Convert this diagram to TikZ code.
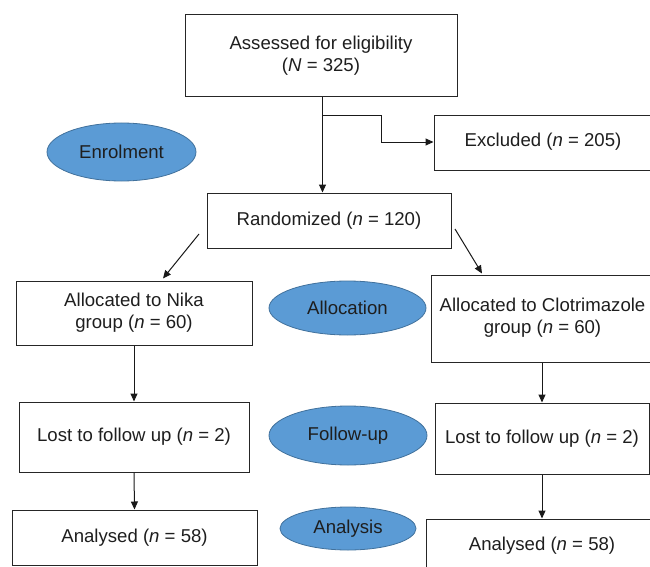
\documentclass[tikz,border=0pt]{standalone}
\usepackage{fontspec}
\setmainfont{Liberation Sans}
\usetikzlibrary{shapes.geometric,arrows.meta}
\definecolor{ellfill}{HTML}{5B9BD5}
\definecolor{elldraw}{HTML}{41719C}
\definecolor{txt}{HTML}{1E1E1E}
\begin{document}
\begin{tikzpicture}[x=1pt,y=-1pt,
  box/.style={draw=black!85,line width=1pt,rectangle,inner sep=0pt,text=txt,align=center,
    font=\fontsize{18.6}{22}\selectfont},
  ell/.style={draw=elldraw,line width=0.8pt,ellipse,fill=ellfill,inner sep=0pt,text=txt,
    font=\fontsize{18.6}{22}\selectfont},
  arr/.style={draw=black!90,line width=1pt,-{Triangle[length=8pt,width=7pt]}}]
\useasboundingbox (0,0) rectangle (650,567);
\clip (0,0) rectangle (650,567);
% boxes
\node[box,minimum width=272pt,minimum height=82pt] (assess) at (321,56) {Assessed for eligibility\\(\textit{N} = 325)};
\node[box,minimum width=220pt,minimum height=54pt] (excl) at (544,143) {};
\node[txt,font=\fontsize{18.6}{22}\selectfont,inner sep=0pt] (excltxt) at (543,142) {Excluded (\textit{n} = 205)};
\node[box,minimum width=244pt,minimum height=55pt] (rand) at (329,220.5) {Randomized (\textit{n} = 120)};
\node[box,minimum width=236pt,minimum height=64pt] (nika) at (134,313) {Allocated to Nika\\group (\textit{n} = 60)};
\node[box,minimum width=226pt,minimum height=87pt] (clot) at (544,318.5) {};
\node[txt,font=\fontsize{18.6}{22}\selectfont,inner sep=0pt,align=center] (clottxt) at (542.5,318) {Allocated to Clotrimazole\\group (\textit{n} = 60)};
\node[box,minimum width=230pt,minimum height=70pt] (lostl) at (134,437) {Lost to follow up (\textit{n} = 2)};
\node[box,minimum width=214pt,minimum height=71pt] (lostr) at (542,438.5) {Lost to follow up (\textit{n} = 2)};
\node[box,minimum width=245pt,minimum height=55pt] (anl) at (134.5,537.5) {Analysed (\textit{n} = 58)};
\node[box,minimum width=232pt,minimum height=54pt] (anr) at (542,546) {Analysed (\textit{n} = 58)};
% ellipses
\node[ell,minimum width=149pt,minimum height=58pt] (enrol) at (121.5,152) {Enrolment};
\node[ell,minimum width=157pt,minimum height=54pt] (alloc) at (347.5,308) {Allocation};
\node[ell,minimum width=158pt,minimum height=59pt] (follow) at (348,435.5) {Follow-up};
\node[ell,minimum width=136pt,minimum height=43pt] (analysis) at (348,528.5) {Analysis};
% connectors
\coordinate (ja) at (322.5,116);
\coordinate (jb) at (381,116);
\coordinate (jc) at (381,142);
\draw[arr] (assess.south -| ja) -- (rand.north -| ja);
\draw[arr] (ja) -- (jb) -- (jc) -- (jc -| excl.west);
\coordinate (dl1) at (199,234);
\coordinate (dl2) at (163,278.5);
\coordinate (dr1) at (455,229);
\coordinate (dr2) at (482,273.5);
\draw[arr] (dl1) -- (dl2);
\draw[arr] (dr1) -- (dr2);
\draw[arr] (nika.south) -- (lostl.north);
\draw[arr] (lostl.south) -- (anl.north);
\draw[arr] (clot.south -| lostr.north) -- (lostr.north);
\draw[arr] (lostr.south) -- (lostr.south |- anr.north);
\end{tikzpicture}
\end{document}
